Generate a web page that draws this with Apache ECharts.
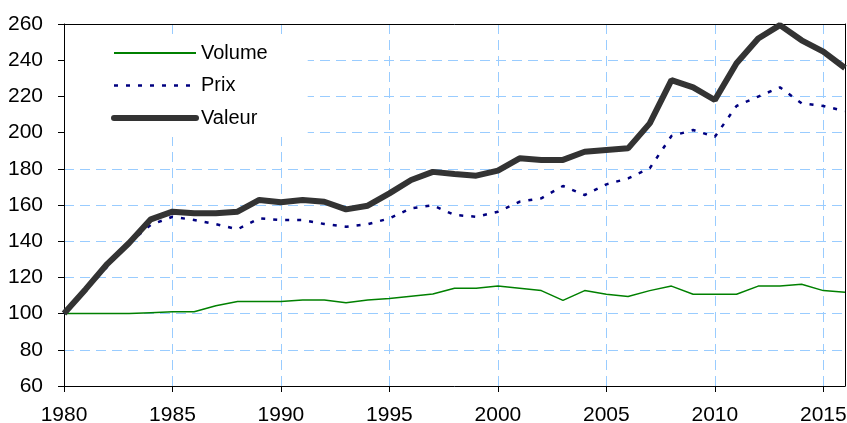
<!DOCTYPE html>
<html>
<head>
<meta charset="utf-8">
<script src="https://cdn.jsdelivr.net/npm/echarts@6/dist/echarts.min.js"></script>
<style>
	html, body { margin: 0; padding: 0; background: #fff; }
	#lineChart { width: 847px; height: 423px; }
</style>
</head>
<body>
<div id="lineChart"></div>
<script>
	// années (axe X)
	var years = [];
	for (var y = 1980; y <= 2016; y++) { years.push(String(y)); }

	// séries
	var volume = [100, 100, 100, 100, 100.5, 101, 101, 104.3, 106.7, 106.7,
		106.7, 107.5, 107.5, 106, 107.5, 108.3, 109.6, 110.8, 114, 114,
		115.2, 114, 112.7, 107.3, 112.7, 110.7, 109.4, 112.7, 115.2, 110.7,
		110.7, 110.7, 115.2, 115.2, 116.2, 112.7, 111.8];
	var prix = [100, 113, 126, 139, 149, 153.5, 151.7, 149.4, 146.6, 152.6,
		151.7, 151.7, 149.5, 148, 149.4, 152.6, 158.2, 159.8, 154.5, 153.5,
		156.3, 161.8, 163.7, 170.5, 165.5, 171.4, 174.7, 180.3, 198.1, 201.4,
		197.7, 214.7, 219.9, 225, 216.2, 214.7, 211.9];
	var valeur = [100, 113.5, 127.5, 139, 152.1, 156.3, 155.4, 155.4, 156.3, 162.8,
		161.5, 162.8, 161.8, 157.6, 159.6, 166.4, 173.8, 178.3, 177.1, 176.2,
		179, 185.8, 184.9, 184.9, 189.4, 190.4, 191.3, 205.1, 229, 225,
		218, 238.3, 252, 259.4, 251, 244.7, 235.7];

	var FONT = 'Liberation Sans, Arial, sans-serif';

	var chartOption = {
		animation: false,
		backgroundColor: '#fff',
		grid: {  //zone du tracé
			left: 64,
			right: 2,
			top: 24,
			bottom: 37,
			containLabel: false,
			outerBoundsMode: 'none'
		},
		legend: {
			orient: 'vertical',
			left: 65,
			top: 34,
			padding: [9, 40, 9, 46],
			backgroundColor: '#fff',
			itemWidth: 82,
			itemHeight: 14,
			itemGap: 12.5,
			itemStyle: { opacity: 0 },  //pas de symbole
			textStyle: { color: '#000', fontSize: 20, lineHeight: 20, fontFamily: FONT },
			data: [
				{ name: 'Volume', lineStyle: { width: 2 } },
				{ name: 'Prix', lineStyle: { width: 2.5, type: [4, 8] } },
				{ name: 'Valeur', lineStyle: { width: 6, cap: 'round' } }
			]
		},
		xAxis: [{
			type: 'category',
			data: years,
			boundaryGap: false,
			axisLine: { lineStyle: { color: '#000', width: 1 } },
			axisTick: { show: true, interval: 4, length: 6, lineStyle: { color: '#000' } },
			axisLabel: { interval: 4, color: '#000', fontSize: 21, fontFamily: FONT, margin: 19 },
			splitLine: { show: true, interval: 4, lineStyle: { color: '#99ccff', type: [10, 6], width: 1 } }
		}, {
			//bord du haut
			type: 'category',
			data: years,
			boundaryGap: false,
			position: 'top',
			axisLine: { lineStyle: { color: '#000', width: 1 } },
			axisTick: { show: false },
			axisLabel: { show: false },
			splitLine: { show: false }
		}],
		yAxis: [{
			type: 'value',
			min: 60,
			max: 260,
			interval: 20,
			axisLine: { show: true, lineStyle: { color: '#000', width: 1 } },
			axisTick: { show: true, length: 6, lineStyle: { color: '#000' } },
			axisLabel: { color: '#000', fontSize: 21, fontFamily: FONT, margin: 21 },
			splitLine: { show: true, lineStyle: { color: '#99ccff', type: [10, 6], width: 1 } }
		}, {
			//bord de droite
			type: 'value',
			min: 60,
			max: 260,
			interval: 20,
			position: 'right',
			axisLine: { show: true, lineStyle: { color: '#000', width: 1 } },
			axisTick: { show: false },
			axisLabel: { show: false },
			splitLine: { show: false }
		}],
		series: [{
			name: 'Volume',
			type: 'line',
			data: volume,
			symbol: 'none',
			z: 2,
			lineStyle: { color: '#008000', width: 1.5 },
			itemStyle: { color: '#008000' }
		}, {
			name: 'Prix',
			type: 'line',
			data: prix,
			symbol: 'none',
			z: 3,
			lineStyle: { color: '#000080', width: 2.5, type: [4, 8] },
			itemStyle: { color: '#000080' }
		}, {
			name: 'Valeur',
			type: 'line',
			data: valeur,
			symbol: 'none',
			z: 4,
			lineStyle: { color: '#333333', width: 6 },
			itemStyle: { color: '#333333' }
		}]
	};

	var lineChart = echarts.init(document.getElementById('lineChart'));
	lineChart.setOption(chartOption);
</script>
</body>
</html>
